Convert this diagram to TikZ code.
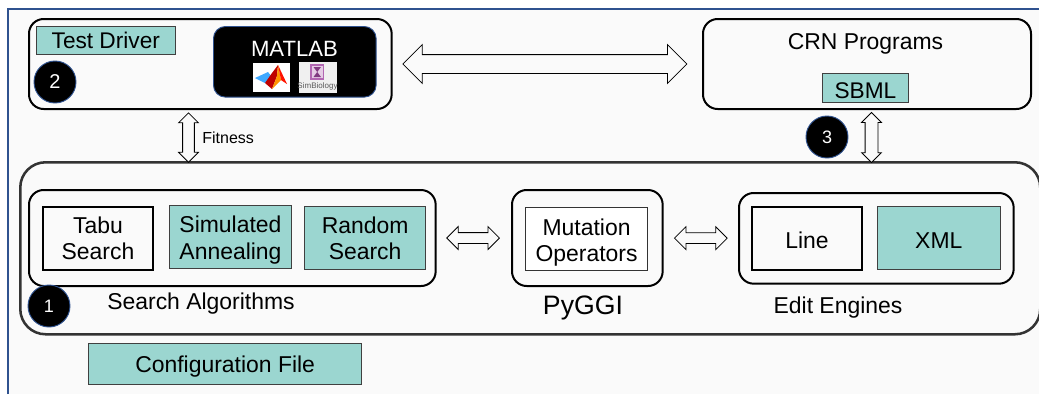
\documentclass[tikz,border=0pt]{standalone}
\usepackage{fontspec}
\setmainfont{Liberation Sans}
\usepackage{tikz}
\usetikzlibrary{shapes.arrows, positioning, calc}
\definecolor{tealbox}{RGB}{155,214,208}
\definecolor{bordblue}{RGB}{47,82,143}
\definecolor{paper}{RGB}{250,250,250}
\newcommand{\fsz}[1]{\fontsize{#1}{20pt}\selectfont}
\tikzset{
  outerbox/.style={draw=black, line width=1.5pt, rounded corners=11pt, anchor=north west, inner sep=0pt},
  tealnode/.style={draw=black!75, line width=.7pt, fill=tealbox, anchor=north west, inner sep=0pt, align=center},
  whitenode/.style={draw=black, fill=paper, anchor=north west, inner sep=0pt, align=center},
  numdot/.style={circle, draw=bordblue, line width=.7pt, fill=black, text=white, minimum size=31.5pt, inner sep=0pt},
  label23/.style={font=\fsz{17.2pt}, inner sep=0pt, align=center},
  lowered/.style={execute at begin node=\rule{0pt}{16pt}},
  hblock/.style={double arrow, draw=black, fill=paper, line width=.6pt, inner xsep=0pt},
  vblock/.style={double arrow, draw=black, fill=paper, line width=.6pt, inner ysep=0pt, shape border rotate=90},
}
\begin{document}
\begin{tikzpicture}[x=.75pt, y=-.75pt]
\useasboundingbox (0,0) rectangle (1039,394);
% fond et cadre
\fill[white] (0,0) rectangle (1039,394);
\fill[paper] (8,9) rectangle (1039,394);
\draw[bordblue, line width=1.4pt] (8,394) -- (8,9) -- (1039,9);

% Test driver + matlab
\node[outerbox, minimum width=272pt, minimum height=67.5pt] (driver) at (28,18) {};
\node[tealnode, minimum width=104pt, minimum height=21pt, font=\fsz{17pt}] (testdriver) at (36,26) {Test Driver};
\node[numdot, font=\fsz{15pt}] (two) at (55,82) {2};
\node[anchor=north west, draw=bordblue, line width=.7pt, fill=black, rounded corners=9pt, minimum width=122pt, minimum height=53pt, inner sep=0pt] (matlab) at (213,26) {};
\node[label23, text=white, font=\fsz{16.6pt}] (matlabtext) at (294.5,49) {MATLAB};
\node[anchor=north west, fill=white, minimum width=27.7pt, minimum height=21.7pt, inner sep=0pt] (mlogo) at (253,63) {};
\node[anchor=north west, fill=black!6, minimum width=28.5pt, minimum height=23.2pt, inner sep=0pt] (slogo) at (299,62) {};

% logo matlab
\fill[blue!45!cyan!75!white] (255,78) -- (268,72) -- (272,77) -- (265,83) -- cycle;
\fill[red!75!black] (265,83) -- (272,73) -- (278,65) -- (277,76) -- (272,89) -- cycle;
\fill[orange!85!yellow] (272,89) -- (277,76) -- (278,65) -- (281,80) -- cycle;
\fill[red!85!orange] (278,65) -- (287,84) -- (281,80) -- cycle;
% logo simbiology
\draw[violet!60!white, line width=.8pt, fill=violet!20] (311,65) rectangle (323.5,79);
\fill[violet!55!gray] (313.5,67) -- (321,67) -- (317.2,72) -- (321,77) -- (313.5,77) -- (317.2,72) -- cycle;
\node[inner sep=0pt, text=black!65, font=\fsz{6pt}] (slogotext) at (317.5,86) {SimBiology};

% CRN
\node[outerbox, minimum width=246pt, minimum height=67.5pt] (crn) at (702,18) {};
\node[label23] (crntext) at (865.5,44) {CRN Programs};
\node[tealnode, lowered, minimum width=64.5pt, minimum height=22pt, font=\fsz{17pt}] (sbml) at (822,73) {SBML};
\node[numdot, font=\fsz{13.5pt}] (three) at (827,137) {3};

% PyGGI
\node[anchor=north west, draw=black!80, line width=1.9pt, rounded corners=19pt, minimum width=765pt, minimum height=129pt, inner sep=0pt] (pyggi) at (19,161) {};
\node[outerbox, minimum width=305pt, minimum height=72pt] (search) at (28,189) {};
\node[whitenode, line width=1.5pt, minimum width=82.5pt, minimum height=47pt, label23, anchor=north west] (tabu) at (42,206) {Tabu\\Search};
\node[tealnode, minimum width=91.5pt, minimum height=47.5pt, label23, anchor=north west] (annealing) at (169,205) {\rule{0pt}{16.5pt}Simulated\\Annealing};
\node[tealnode, minimum width=91pt, minimum height=47.5pt, label23, anchor=north west] (randoms) at (304,206) {Random\\Search};
\node[label23] (searchtext) at (201,304) {Search Algorithms};
\node[numdot, font=\fsz{13.5pt}] (one) at (49,306) {1};

\node[outerbox, minimum width=113pt, minimum height=72pt] (mutation) at (511,189) {};
\node[whitenode, fill=white, draw=black!80, line width=.8pt, minimum width=91.5pt, minimum height=47pt, label23, anchor=north west] (operators) at (525,207) {\rule{0pt}{18pt}Mutation\\Operators};
\node[font=\fsz{20pt}, inner sep=0pt] (pyggitext) at (583,308) {PyGGI};

\node[outerbox, minimum width=206pt, minimum height=68pt] (edit) at (738,192) {};
\node[whitenode, lowered, line width=1.5pt, minimum width=82.5pt, minimum height=47pt, label23, anchor=north west] (line) at (751,206) {Line};
\node[tealnode, lowered, minimum width=92pt, minimum height=47pt, label23, anchor=north west] (xml) at (877,206) {XML};
\node[label23] (edittext) at (838,308) {Edit Engines};

\node[tealnode, lowered, minimum width=205pt, minimum height=31pt, label23, anchor=north west] (config) at (88,343) {Configuration File};

% fleches doubles
\path (driver.east) -- node[hblock, pos=.492, minimum height=213pt, inner ysep=6.75pt, double arrow head extend=7.5pt] (linkcrn) {} (crn.west);
\path (search.east) -- node[hblock, pos=.49, minimum height=39.5pt, inner ysep=3.75pt, double arrow head extend=4.5pt] (linkmut) {} (mutation.west);
\path (mutation.east) -- node[hblock, pos=.50, minimum height=39.5pt, inner ysep=3.75pt, double arrow head extend=4.5pt] (linkedit) {} (edit.west);
\coordinate (fitx) at (188.5,0);
\coordinate (crnx) at (871.5,0);
\path (driver.south -| fitx) -- node[vblock, pos=.54, minimum height=37pt, inner xsep=4.1pt, double arrow head extend=3pt] (linkfit) {} (pyggi.north -| fitx);
\path (crn.south -| crnx) -- node[vblock, pos=.54, minimum height=37.5pt, inner xsep=4.5pt, double arrow head extend=2.6pt] (linksbml) {} (pyggi.north -| crnx);
\node[right=5.5pt of linkfit, inner sep=0pt, font=\fsz{12pt}] (fitness) {Fitness};
\end{tikzpicture}
\end{document}
